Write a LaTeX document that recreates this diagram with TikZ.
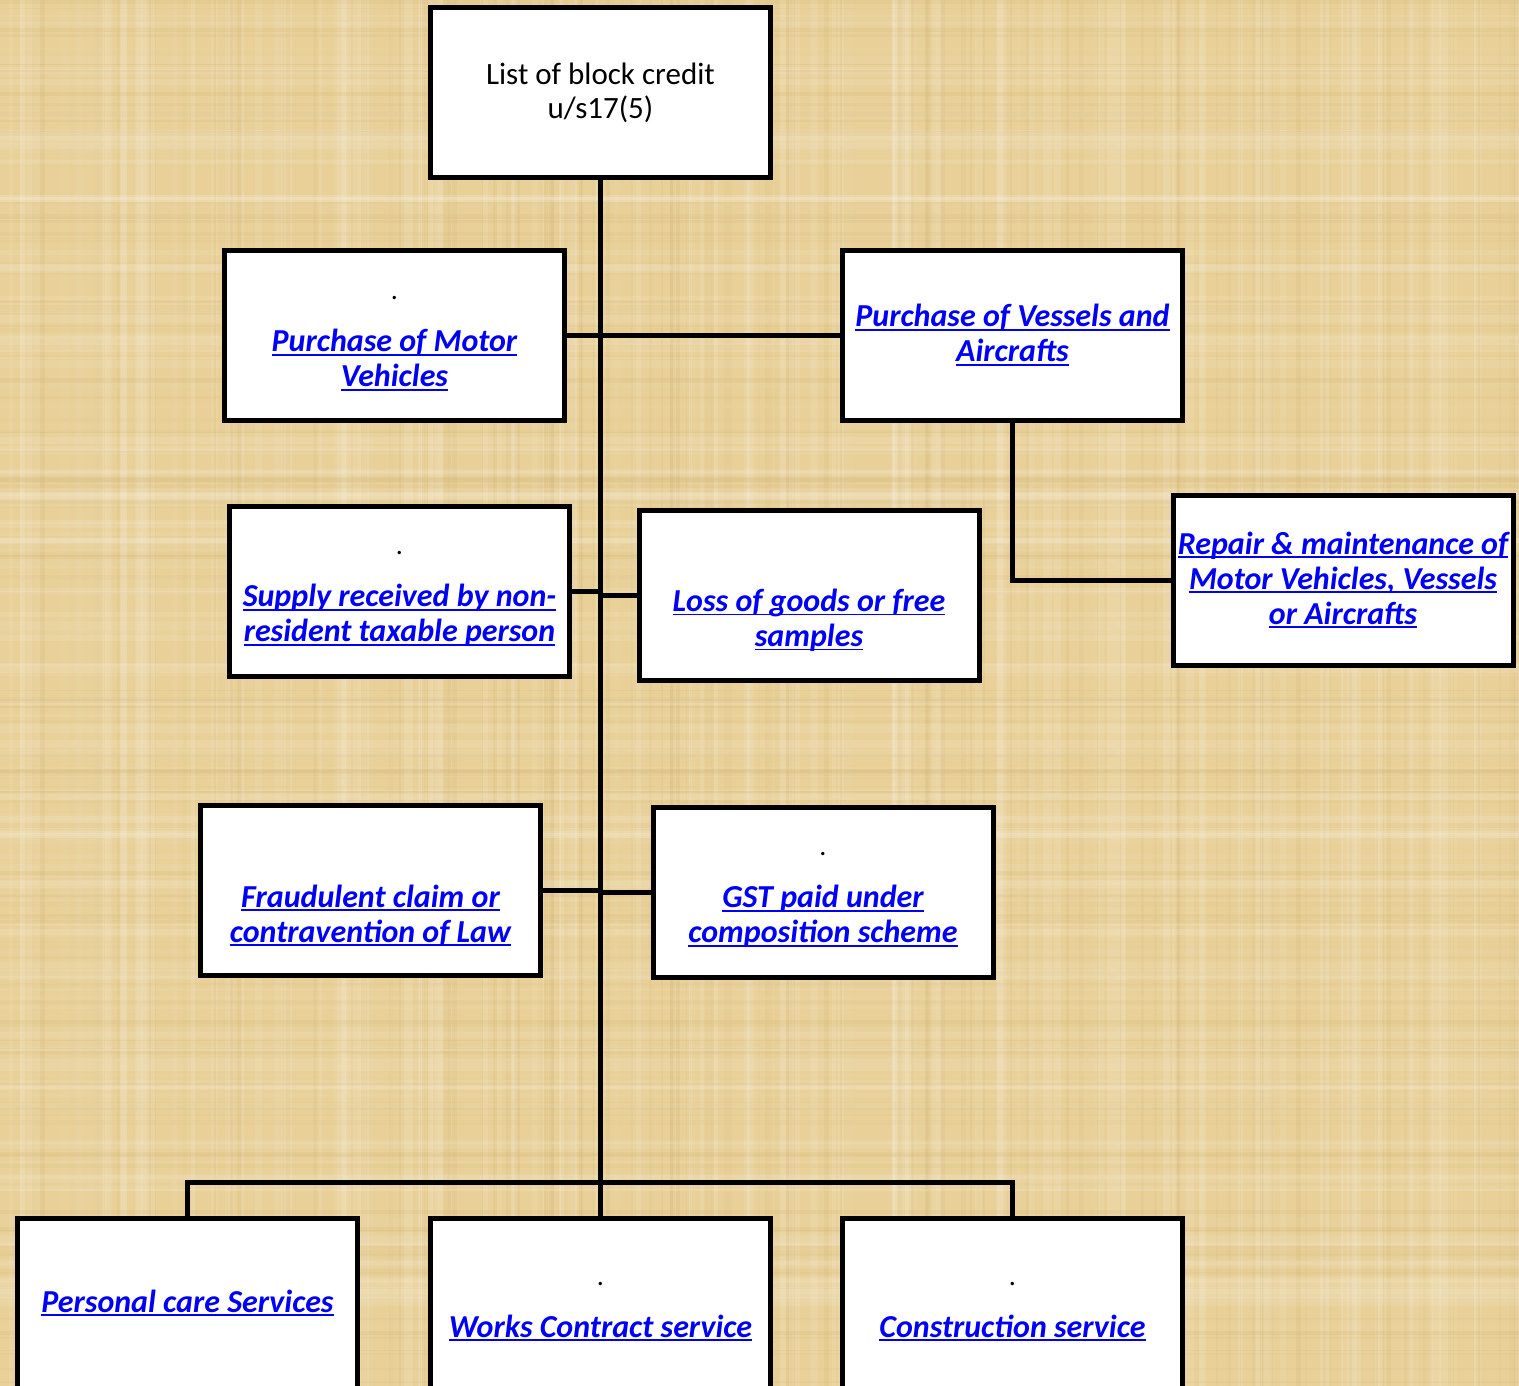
\documentclass[tikz,border=0pt]{standalone}
\usepackage{fontspec}
\setmainfont{Carlito}
\definecolor{paper}{RGB}{232,208,152}
\definecolor{paperdark}{RGB}{200,166,100}
\definecolor{linkblue}{RGB}{0,0,245}

\tikzset{
  box/.style={draw=black, line width=5pt, fill=white,
    minimum width=340pt, minimum height=170pt, inner sep=2pt, align=center},
  link/.style={font=\bfseries\itshape\fontsize{32}{35}\selectfont, text=linkblue},
  plain/.style={font=\fontsize{31}{34}\selectfont, text=black},
  wire/.style={line width=5pt},
}
% underlined hyperlink-style text: a rule just under the baseline
\newcommand{\ulin}[1]{\setbox0\hbox{#1}\rlap{\rule[-4pt]{\wd0}{1.8pt}}\box0}
% leading paragraph holding a small black dot (or nothing)
\newcommand{\topdot}{\rule{0pt}{20pt}{\normalfont\fontsize{28}{35}\selectfont\color{black}.}\\[17pt]}
\newcommand{\topgap}{\rule{0pt}{20pt}\\[17pt]}

\begin{document}
\begin{tikzpicture}[x=1pt, y=-1pt]
  \useasboundingbox (0,0) rectangle (1519,1386);
  \clip (0,0) rectangle (1519,1386);

  % papyrus-like backdrop
  \fill[paper] (0,0) rectangle (1519,1386);
  \pgfmathsetseed{17}
  \foreach \i in {1,...,140}{
    \pgfmathsetmacro\xx{random(0,1519)}
    \pgfmathsetmacro\ww{random(2,9)}
    \pgfmathsetmacro\op{0.03+0.10*rnd}
    \fill[white, opacity=\op] (\xx,0) rectangle ++(\ww,1386);
  }
  \foreach \i in {1,...,110}{
    \pgfmathsetmacro\xx{random(0,1519)}
    \pgfmathsetmacro\ww{random(1,5)}
    \pgfmathsetmacro\op{0.04+0.10*rnd}
    \fill[paperdark, opacity=\op] (\xx,0) rectangle ++(\ww,1386);
  }
  \foreach \i in {1,...,140}{
    \pgfmathsetmacro\yy{random(0,1386)}
    \pgfmathsetmacro\hh{random(2,9)}
    \pgfmathsetmacro\op{0.03+0.09*rnd}
    \fill[white, opacity=\op] (0,\yy) rectangle ++(1519,\hh);
  }
  \foreach \i in {1,...,110}{
    \pgfmathsetmacro\yy{random(0,1386)}
    \pgfmathsetmacro\hh{random(1,5)}
    \pgfmathsetmacro\op{0.04+0.09*rnd}
    \fill[paperdark, opacity=\op] (0,\yy) rectangle ++(1519,\hh);
  }

  % boxes
  \node[box, plain] (top) at (600.5,93) {List of block credit\\u/s17(5)};
  \node[box, link] (mv) at (394.5,335) {\topdot\ulin{Purchase of Motor}\\\ulin{Vehicles}};
  \node[box, link] (ves) at (1012.5,335) {\ulin{Purchase of Vessels and}\\\ulin{Aircrafts}};
  \node[box, link] (rep) at (1343,580) {\ulin{Repair \& maintenance of}\\\ulin{Motor Vehicles, Vessels}\\\ulin{or Aircrafts}};
  \node[box, link] (sup) at (399.5,591) {\topdot\ulin{Supply received by non-}\\\ulin{resident taxable person}};
  \node[box, link] (loss) at (809,595.5) {\topgap\ulin{Loss of goods or free}\\\ulin{samples}};
  \node[box, link] (fra) at (370.5,890.5) {\topgap\ulin{Fraudulent claim or}\\\ulin{contravention of Law}};
  \node[box, link] (gst) at (823,892) {\topdot\ulin{GST paid under}\\\ulin{composition scheme}};
  \node[box, link] (pc) at (187.5,1303) {\ulin{Personal care Services}};
  \node[box, link] (wc) at (600.5,1303) {\topdot\ulin{Works Contract service}};
  \node[box, link] (cs) at (1012.5,1303) {\topdot\ulin{Construction service}};

  \coordinate (bus) at (600.5,1182);

  % connectors
  \draw[wire] (top.south) -- (wc.north);
  \draw[wire] (mv.east) -- (ves.west);
  \draw[wire] (sup.east) -- (sup.east -| top.south);
  \draw[wire] (loss.west) -- (loss.west -| top.south);
  \draw[wire] (fra.east) -- (fra.east -| top.south);
  \draw[wire] (gst.west) -- (gst.west -| top.south);
  \draw[wire] (ves.south) |- (rep.west);
  \draw[wire] (pc.north) -- (pc.north |- bus) -- (cs.north |- bus) -- (cs.north);
\end{tikzpicture}
\end{document}
